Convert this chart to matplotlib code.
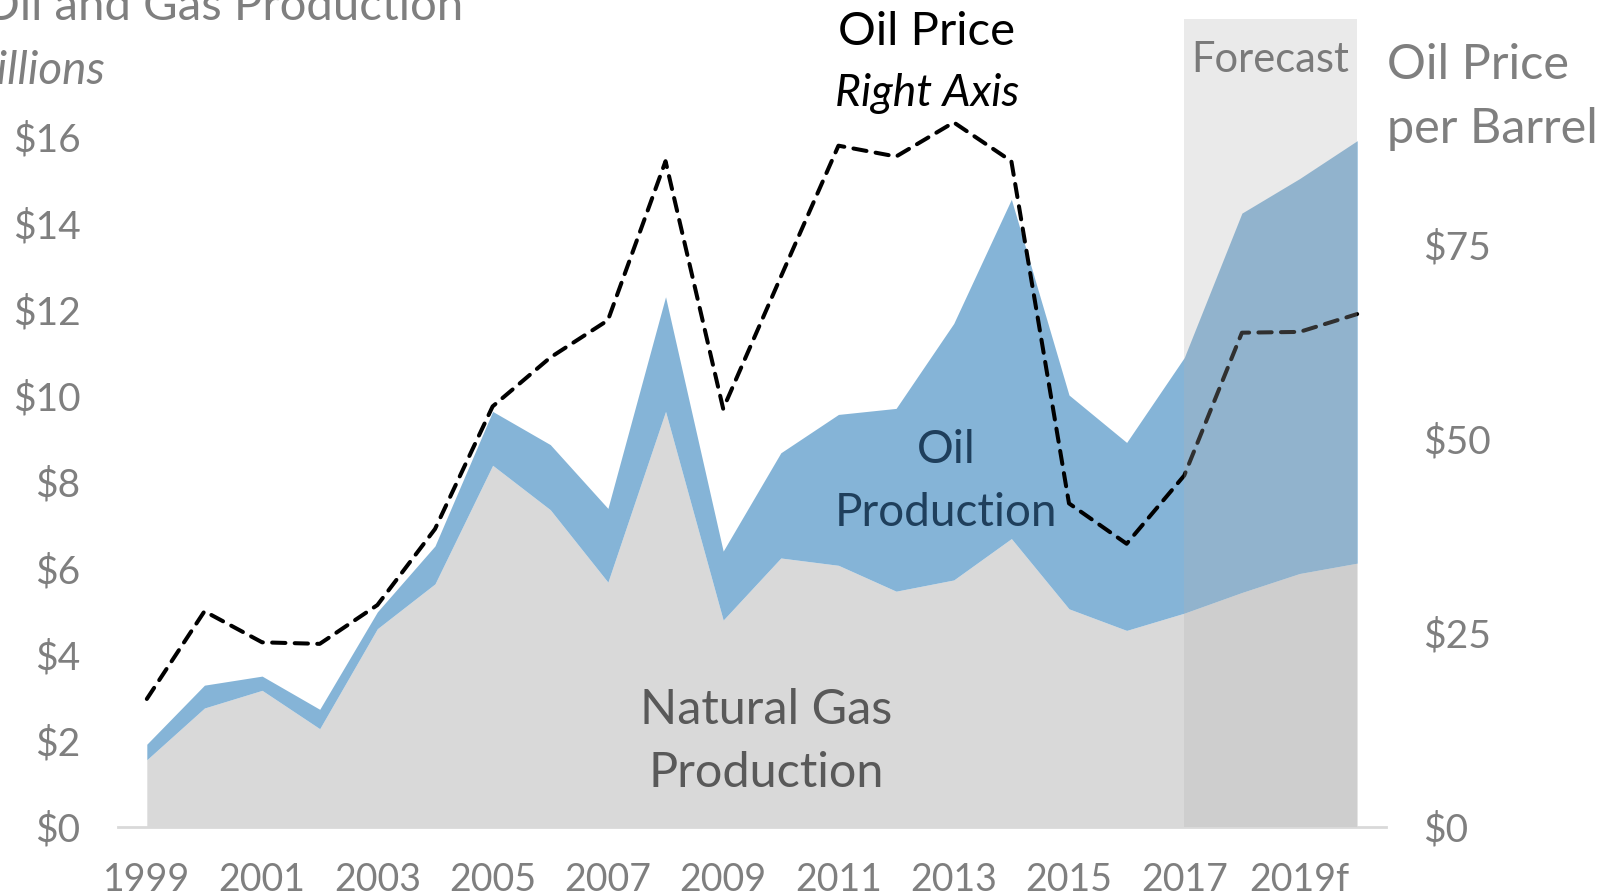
import matplotlib
matplotlib.use('Agg')
import matplotlib.pyplot as plt
from matplotlib.patches import Rectangle

years = list(range(1999, 2021))
gas = [1.56, 2.76, 3.17, 2.28, 4.60, 5.64, 8.39, 7.36, 5.68, 9.64, 4.80,
       6.24, 6.07, 5.47, 5.73, 6.69, 5.06, 4.56, 4.96, 5.44, 5.88, 6.12]
total = [1.92, 3.29, 3.50, 2.73, 4.99, 6.52, 9.64, 8.87, 7.39, 12.30, 6.40,
         8.68, 9.57, 9.71, 11.68, 14.56, 10.02, 8.92, 10.89, 14.24, 15.04, 15.92]
oil_price = [16.5, 27.8, 23.8, 23.6, 28.6, 38.4, 54.2, 60.5, 65.3, 85.8, 53.9,
             70.9, 87.8, 86.4, 90.8, 85.8, 41.7, 36.5, 45.3, 63.7, 63.8, 66.1]
xtick_years = list(range(1999, 2020, 2))
xtick_labels = [str(y) for y in xtick_years[:-1]] + ['2019f']
left_ticks = list(range(0, 17, 2))
right_ticks = [0, 25, 50, 75]
forecast_start, forecast_end = 2017, 2020

W, H = 1621, 894
plt.rcParams['font.family'] = ['Lato', 'DejaVu Sans']
grey = '#7f7f7f'

fig = plt.figure(figsize=(W / 100, H / 100), dpi=100)
ax = fig.add_axes([118 / W, 1 - 827 / H, (1386 - 118) / W, (827 - 51) / H])
ax2 = ax.twinx()

ax.fill_between(years, 0, gas, color='#d9d9d9', lw=0, zorder=1)
ax.fill_between(years, gas, total, color='#85b4d7', lw=0, zorder=1)
ax2.plot(years, oil_price, color='black', lw=2.9, linestyle=(0, (3.3, 2.3)),
         dash_capstyle='round', zorder=3)

# forecast shading sits on top of everything
ax2.add_patch(Rectangle((forecast_start, 0), forecast_end - forecast_start,
                        100 * 808 / 776, color='#b3b3b3', alpha=0.27, lw=0,
                        clip_on=False, zorder=5))

ax.set_xlim(1998.5, 2020.5)
ax.set_ylim(0, 18)
ax2.set_ylim(0, 100)

ax.set_xticks(xtick_years)
ax.set_xticklabels(xtick_labels)
ax.set_yticks(left_ticks)
ax.set_yticklabels(['$%d' % v for v in left_ticks])
ax2.set_yticks(right_ticks)
ax2.set_yticklabels(['$%d' % v for v in right_ticks])

for a in (ax, ax2):
    for s in a.spines.values():
        s.set_visible(False)
ax.spines['bottom'].set_visible(True)
ax.spines['bottom'].set_color('#d9d9d9')
ax.spines['bottom'].set_linewidth(2)
ax.spines['bottom'].set_zorder(6)

ax.tick_params(axis='x', length=0, pad=25, labelsize=27, labelcolor=grey)
ax.tick_params(axis='y', length=0, pad=27, labelsize=28, labelcolor=grey)
ax2.tick_params(axis='y', length=0, pad=27, labelsize=28, labelcolor=grey)


def put(x, y, s, **kw):
    fig.text(x / W, 1 - y / H, s, **kw)


put(463, 7, 'Oil and Gas Production', ha='right', va='center', fontsize=34, color=grey)
put(106, 71, 'Billions', ha='right', va='center', fontsize=33, color=grey, style='italic')
put(927, 32, 'Oil Price', ha='center', va='center', fontsize=34, color='black')
put(927, 94, 'Right Axis', ha='center', va='center', fontsize=32, color='black', style='italic')
put(1270, 60, 'Forecast', ha='center', va='center', fontsize=30, color='#7a7a7a', zorder=10)
put(1387, 65, 'Oil Price', ha='left', va='center', fontsize=35, color=grey)
put(1387, 129, 'per Barrel', ha='left', va='center', fontsize=35, color=grey)
put(946, 450, 'Oil', ha='center', va='center', fontsize=33, color='#1f3f5c')
put(946, 513, 'Production', ha='center', va='center', fontsize=33, color='#1f3f5c')
put(766, 710, 'Natural Gas', ha='center', va='center', fontsize=35, color='#595959')
put(766, 773, 'Production', ha='center', va='center', fontsize=35, color='#595959')

fig.savefig('out.png', dpi=100)
